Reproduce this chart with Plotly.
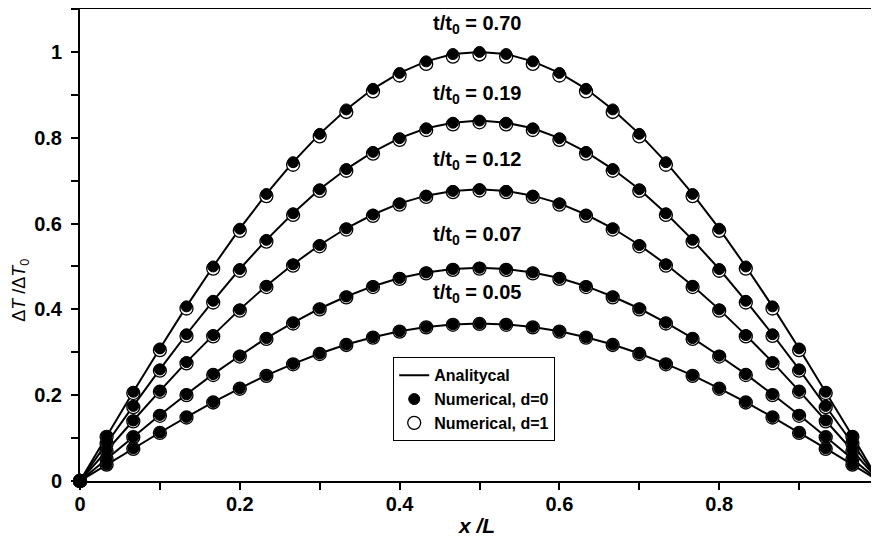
import plotly.graph_objects as go

# x positions of the numerical nodes (x/L)
x_nodes = [0, 0.0333, 0.0667, 0.1, 0.1333, 0.1667, 0.2, 0.2333, 0.2667, 0.3,
           0.3333, 0.3667, 0.4, 0.4333, 0.4667, 0.5, 0.5333, 0.5667, 0.6, 0.6333,
           0.6667, 0.7, 0.7333, 0.7667, 0.8, 0.8333, 0.8667, 0.9, 0.9333, 0.9667, 1.0]

# Analytical / numerical d=0 values
y_070 = [0, 0.105, 0.208, 0.309, 0.407, 0.500, 0.588, 0.669, 0.743, 0.809, 0.866,
         0.914, 0.951, 0.978, 0.995, 1.000, 0.995, 0.978, 0.951, 0.914, 0.866,
         0.809, 0.743, 0.669, 0.588, 0.500, 0.407, 0.309, 0.208, 0.105, 0]
y_019 = [0, 0.088, 0.175, 0.260, 0.342, 0.420, 0.494, 0.562, 0.624, 0.680, 0.727,
         0.767, 0.799, 0.822, 0.835, 0.840, 0.835, 0.822, 0.799, 0.767, 0.727,
         0.680, 0.624, 0.562, 0.494, 0.420, 0.342, 0.260, 0.175, 0.088, 0]
y_012 = [0, 0.071, 0.141, 0.210, 0.277, 0.340, 0.400, 0.455, 0.505, 0.550, 0.589,
         0.621, 0.647, 0.665, 0.676, 0.680, 0.676, 0.665, 0.647, 0.621, 0.589,
         0.550, 0.505, 0.455, 0.400, 0.340, 0.277, 0.210, 0.141, 0.071, 0]
y_007 = [0, 0.052, 0.103, 0.154, 0.202, 0.249, 0.292, 0.333, 0.369, 0.402, 0.430,
         0.454, 0.473, 0.486, 0.494, 0.497, 0.494, 0.486, 0.473, 0.454, 0.430,
         0.402, 0.369, 0.333, 0.292, 0.249, 0.202, 0.154, 0.103, 0.052, 0]
y_005 = [0, 0.038, 0.076, 0.113, 0.149, 0.184, 0.216, 0.246, 0.273, 0.297, 0.318,
         0.335, 0.349, 0.359, 0.365, 0.367, 0.365, 0.359, 0.349, 0.335, 0.318,
         0.297, 0.273, 0.246, 0.216, 0.184, 0.149, 0.113, 0.076, 0.038, 0]

# Numerical d=1 values (slightly below in upper curves)
d1_070 = [0, 0.103, 0.205, 0.305, 0.402, 0.495, 0.583, 0.664, 0.737, 0.803, 0.860,
          0.908, 0.945, 0.972, 0.989, 0.994, 0.989, 0.972, 0.945, 0.908, 0.860,
          0.803, 0.737, 0.664, 0.583, 0.495, 0.402, 0.305, 0.205, 0.103, 0]
d1_019 = [0, 0.087, 0.172, 0.257, 0.338, 0.416, 0.490, 0.558, 0.620, 0.676, 0.723,
          0.763, 0.795, 0.818, 0.831, 0.836, 0.831, 0.818, 0.795, 0.763, 0.723,
          0.676, 0.620, 0.558, 0.490, 0.416, 0.338, 0.257, 0.172, 0.087, 0]
d1_012 = [0, 0.070, 0.139, 0.208, 0.274, 0.337, 0.397, 0.452, 0.502, 0.547, 0.586,
          0.618, 0.644, 0.662, 0.673, 0.677, 0.673, 0.662, 0.644, 0.618, 0.586,
          0.547, 0.502, 0.452, 0.397, 0.337, 0.274, 0.208, 0.139, 0.070, 0]
d1_007 = [0, 0.051, 0.102, 0.152, 0.200, 0.247, 0.290, 0.331, 0.367, 0.400, 0.428,
          0.452, 0.471, 0.484, 0.492, 0.495, 0.492, 0.484, 0.471, 0.452, 0.428,
          0.400, 0.367, 0.331, 0.290, 0.247, 0.200, 0.152, 0.102, 0.051, 0]
d1_005 = [0, 0.038, 0.075, 0.112, 0.148, 0.183, 0.215, 0.245, 0.272, 0.296, 0.317,
          0.334, 0.348, 0.358, 0.364, 0.366, 0.364, 0.358, 0.348, 0.334, 0.317,
          0.296, 0.272, 0.245, 0.215, 0.183, 0.148, 0.112, 0.075, 0.038, 0]

curve_labels = ["0.70", "0.19", "0.12", "0.07", "0.05"]
label_y = [1.065, 0.900, 0.748, 0.573, 0.436]

analytic = [y_070, y_019, y_012, y_007, y_005]
numeric_d0 = [y_070, y_019, y_012, y_007, y_005]
numeric_d1 = [d1_070, d1_019, d1_012, d1_007, d1_005]

FONT = "Liberation Sans, Arial, sans-serif"

fig = go.Figure()

for i, ys in enumerate(analytic):
    fig.add_trace(go.Scatter(
        x=x_nodes, y=ys, mode="lines", name="Analitycal",
        line=dict(color="black", width=2),
        showlegend=(i == 0), legendrank=1, cliponaxis=False))

for i, ys in enumerate(numeric_d1):
    fig.add_trace(go.Scatter(
        x=x_nodes, y=ys, mode="markers", name="Numerical, d=1",
        marker=dict(symbol="circle", size=13, color="white",
                    line=dict(color="black", width=1.3)),
        showlegend=(i == 0), legendrank=3, cliponaxis=False))

for i, ys in enumerate(numeric_d0):
    fig.add_trace(go.Scatter(
        x=x_nodes, y=ys, mode="markers", name="Numerical, d=0",
        marker=dict(symbol="circle", size=11, color="black",
                    line=dict(color="black", width=1)),
        showlegend=(i == 0), legendrank=2, cliponaxis=False))

annotations = []
for lab, yy in zip(curve_labels, label_y):
    annotations.append(dict(
        x=0.497, y=yy, xref="x", yref="y", showarrow=False,
        text="<b>t/t<sub>0</sub> = " + lab + "</b>",
        font=dict(family=FONT, size=20, color="black"),
        xanchor="center", yanchor="middle"))

annotations.append(dict(
    x=0.496, y=-0.095, xref="paper", yref="paper", showarrow=False,
    text="<b><i>x /L</i></b>", font=dict(family=FONT, size=21, color="black"),
    xanchor="center", yanchor="middle"))
annotations.append(dict(
    x=-0.074, y=0.405, xref="paper", yref="paper", showarrow=False,
    text="Δ<i>T</i> /Δ<i>T</i><sub>0</sub>", textangle=-90,
    font=dict(family=FONT, size=18, color="black"),
    xanchor="center", yanchor="middle"))

# The page body has an 8px margin, so the figure is sized to fit the window.
fig.update_layout(
    width=871, height=530,
    margin=dict(l=72, r=0, t=1, b=57),
    paper_bgcolor="white", plot_bgcolor="white",
    annotations=annotations,
    legend=dict(x=0.392, y=0.262, xanchor="left", yanchor="top",
                bordercolor="black", borderwidth=1, bgcolor="white",
                font=dict(family=FONT, size=16, color="black", weight="bold"),
                tracegroupgap=0, itemwidth=30),
)

fig.update_xaxes(
    range=[0, 1], showgrid=False, zeroline=False,
    showline=True, linecolor="black", linewidth=2, mirror=True,
    ticks="outside", ticklen=7, tickwidth=1.5, tickcolor="black",
    tick0=0, dtick=0.2, ticklabelstandoff=-3,
    minor=dict(ticks="outside", ticklen=7, tickwidth=1.5, tickcolor="black", dtick=0.1),
    tickfont=dict(family=FONT, size=20, color="black", weight="bold"))

fig.update_yaxes(
    range=[0, 1.1], showgrid=False, zeroline=False,
    showline=True, linecolor="black", linewidth=2,
    ticks="outside", ticklen=7, tickwidth=1.5, tickcolor="black",
    tick0=0, dtick=0.2, ticklabelstandoff=5,
    minor=dict(ticks="outside", ticklen=7, tickwidth=1.5, tickcolor="black", dtick=0.1),
    tickfont=dict(family=FONT, size=20, color="black", weight="bold"))

fig.write_html("out.html")
